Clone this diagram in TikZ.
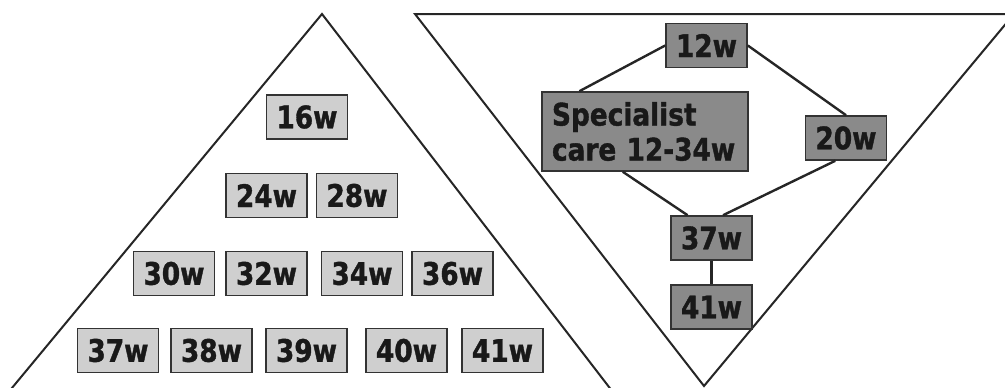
\documentclass[tikz,border=0pt]{standalone}
\usepackage{fontspec}
\setmainfont{DejaVu Sans}[FakeStretch=0.85, BoldFeatures={FakeBold=1.2}]
\usetikzlibrary{calc}

\begin{document}
\begin{tikzpicture}[x=1pt, y=-1pt,
    wk/.style={draw=black!80, line width=1.6pt, fill=black!19, minimum width=81pt, minimum height=44pt, inner sep=0pt, font=\fontsize{31}{34}\selectfont\bfseries, text=black!90},
    wkdark/.style={wk, fill=black!46},
    link/.style={line width=2.4pt, draw=black!85}]
    \useasboundingbox (0,0) rectangle (1005,388);
    \clip (0,0) rectangle (1005,388);

    % screening pyramid
    \draw[line width=2pt, draw=black!85] (322,14) -- (2,400) -- (619,400) -- cycle;
    % specialist funnel
    \draw[line width=2pt, draw=black!85] (415,14) -- (1014,14) -- (704,386) -- cycle;

    \node[wk] (w16) at (307,117) {16w};
    \node[wk] (w24) at (266.5,195.5) {24w};
    \node[wk] (w28) at (357,195.5) {28w};
    \node[wk] (w30) at (174,273.5) {30w};
    \node[wk] (w32) at (266.5,273.5) {32w};
    \node[wk] (w34) at (362,273.5) {34w};
    \node[wk] (w36) at (452.5,273.5) {36w};
    \node[wk] (w37) at (118,350.5) {37w};
    \node[wk] (w38) at (211.5,350.5) {38w};
    \node[wk] (w39) at (306.5,350.5) {39w};
    \node[wk] (w40) at (406.5,350.5) {40w};
    \node[wk] (w41) at (502.5,350.5) {41w};

    \node[wkdark] (r12) at (706.5,45.5) {12w};
    \node[wkdark, minimum width=206pt, minimum height=79pt, text width=186pt, align=left, inner sep=0pt, font=\fontsize{31}{35}\selectfont\bfseries] (spec) at (645,131.5) {Specialist\\care 12-34w};
    \node[wkdark] (r20) at (846,138) {20w};
    \node[wkdark] (r37) at (711.5,238) {37w};
    \node[wkdark] (r41) at (711.5,307) {41w};

    \draw[link] (r12.west) -- ($(spec.north west)!0.184!(spec.north east)$);
    \draw[link] (r12.east) -- (r20.north);
    \draw[link] ($(spec.south west)!0.393!(spec.south east)$) -- ($(r37.north west)!0.21!(r37.north east)$);
    \draw[link] ($(r20.south west)!0.37!(r20.south east)$) -- ($(r37.north west)!0.64!(r37.north east)$);
    \draw[link] (r37.south) -- (r41.north);
  \end{tikzpicture}
\end{document}
